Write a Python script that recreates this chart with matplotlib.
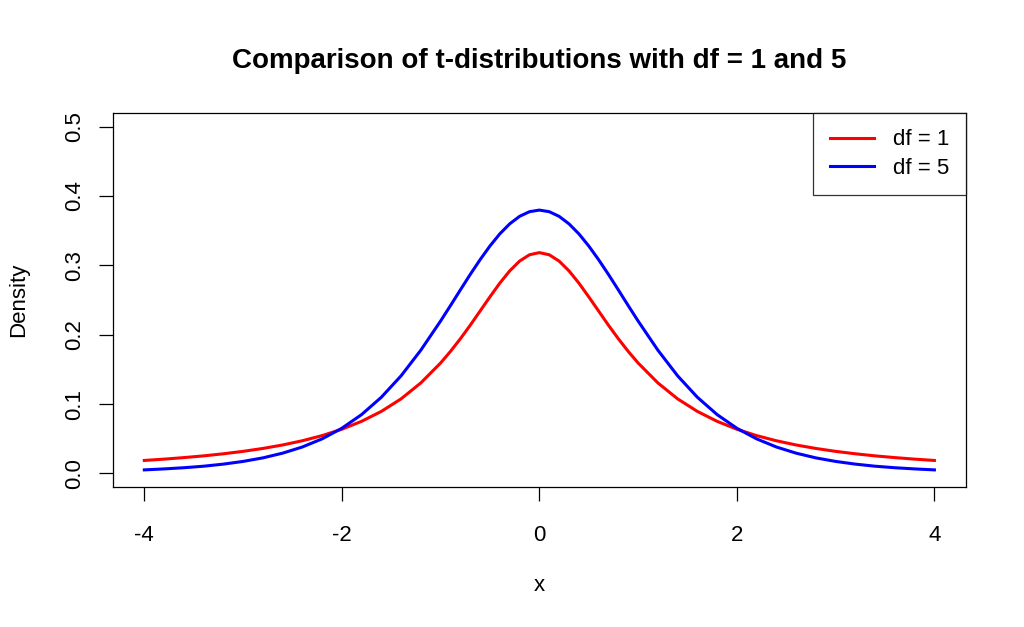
import matplotlib
matplotlib.use("Agg")
import matplotlib.pyplot as plt

# Values
x_values = [-4.0, -3.8, -3.6, -3.4, -3.2, -3.0, -2.8, -2.6, -2.4, -2.2, -2.0, -1.8, -1.6,
            -1.4, -1.2, -1.0, -0.9, -0.8, -0.7, -0.6, -0.5, -0.4, -0.3, -0.2, -0.1, 0.0,
            0.1, 0.2, 0.3, 0.4, 0.5, 0.6, 0.7, 0.8, 0.9, 1.0, 1.2, 1.4, 1.6, 1.8, 2.0,
            2.2, 2.4, 2.6, 2.8, 3.0, 3.2, 3.4, 3.6, 3.8, 4.0]
density_df1 = [0.0187, 0.0206, 0.0228, 0.0253, 0.0283, 0.0318, 0.0360, 0.0410, 0.0471,
               0.0545, 0.0637, 0.0751, 0.0894, 0.1075, 0.1305, 0.1592, 0.1759, 0.1941,
               0.2136, 0.2341, 0.2546, 0.2744, 0.2920, 0.3061, 0.3152, 0.3183, 0.3152,
               0.3061, 0.2920, 0.2744, 0.2546, 0.2341, 0.2136, 0.1941, 0.1759, 0.1592,
               0.1305, 0.1075, 0.0894, 0.0751, 0.0637, 0.0545, 0.0471, 0.0410, 0.0360,
               0.0318, 0.0283, 0.0253, 0.0228, 0.0206, 0.0187]
density_df5 = [0.0051, 0.0065, 0.0082, 0.0104, 0.0134, 0.0173, 0.0224, 0.0292, 0.0381,
               0.0498, 0.0651, 0.0848, 0.1098, 0.1407, 0.1777, 0.2197, 0.2419, 0.2645,
               0.2868, 0.3081, 0.3279, 0.3454, 0.3598, 0.3706, 0.3773, 0.3796, 0.3773,
               0.3706, 0.3598, 0.3454, 0.3279, 0.3081, 0.2868, 0.2645, 0.2419, 0.2197,
               0.1777, 0.1407, 0.1098, 0.0848, 0.0651, 0.0498, 0.0381, 0.0292, 0.0224,
               0.0173, 0.0134, 0.0104, 0.0082, 0.0065, 0.0051]
series_labels = ["df = 1", "df = 5"]
x_ticks = [-4, -2, 0, 2, 4]
y_ticks = [0.0, 0.1, 0.2, 0.3, 0.4, 0.5]
title = "Comparison of t-distributions with df = 1 and 5"

plt.rcParams['font.family'] = ['Liberation Sans', 'DejaVu Sans']

fig = plt.figure(figsize=(10.24, 6.27), dpi=100)
ax = fig.add_axes([112.7 / 1024, 1 - 487.3 / 627, (966 - 112.7) / 1024, (487.3 - 112.7) / 627])

ax.plot(x_values, density_df1, color='#FF0000', lw=2.2, label=series_labels[0],
        solid_joinstyle='round')
ax.plot(x_values, density_df5, color='#0000FF', lw=2.2, label=series_labels[1],
        solid_joinstyle='round')

ax.set_xlim(-4.32, 4.32)
ax.set_ylim(-0.02, 0.52)

for s in ax.spines.values():
    s.set_color('black')
    s.set_linewidth(0.9)

ax.set_xticks(x_ticks)
ax.set_xticklabels([str(t) for t in x_ticks])
ax.set_yticks(y_ticks)
ax.set_yticklabels([f"{t:.1f}" for t in y_ticks], rotation=90, va='center')
ax.tick_params(axis='both', direction='out', length=10, width=0.9, colors='black',
               labelsize=16)
ax.tick_params(axis='x', pad=17)
ax.tick_params(axis='y', pad=9.5)

ax.set_xlabel("x", fontsize=16, labelpad=21)
ax.set_ylabel("Density", fontsize=16, labelpad=25.5)

fig.text(0.5 * (112.7 + 966) / 1024, 1 - 61 / 627, title, ha='center', va='center',
         fontsize=20, fontweight='bold')

leg = ax.legend(loc='upper right', fontsize=16, frameon=True, fancybox=False,
                borderaxespad=0, handlelength=2.0, handletextpad=0.85,
                borderpad=0.75, labelspacing=0.33)
leg.get_frame().set_edgecolor('black')
leg.get_frame().set_linewidth(0.9)

fig.savefig("out.png", dpi=100, facecolor='white')
